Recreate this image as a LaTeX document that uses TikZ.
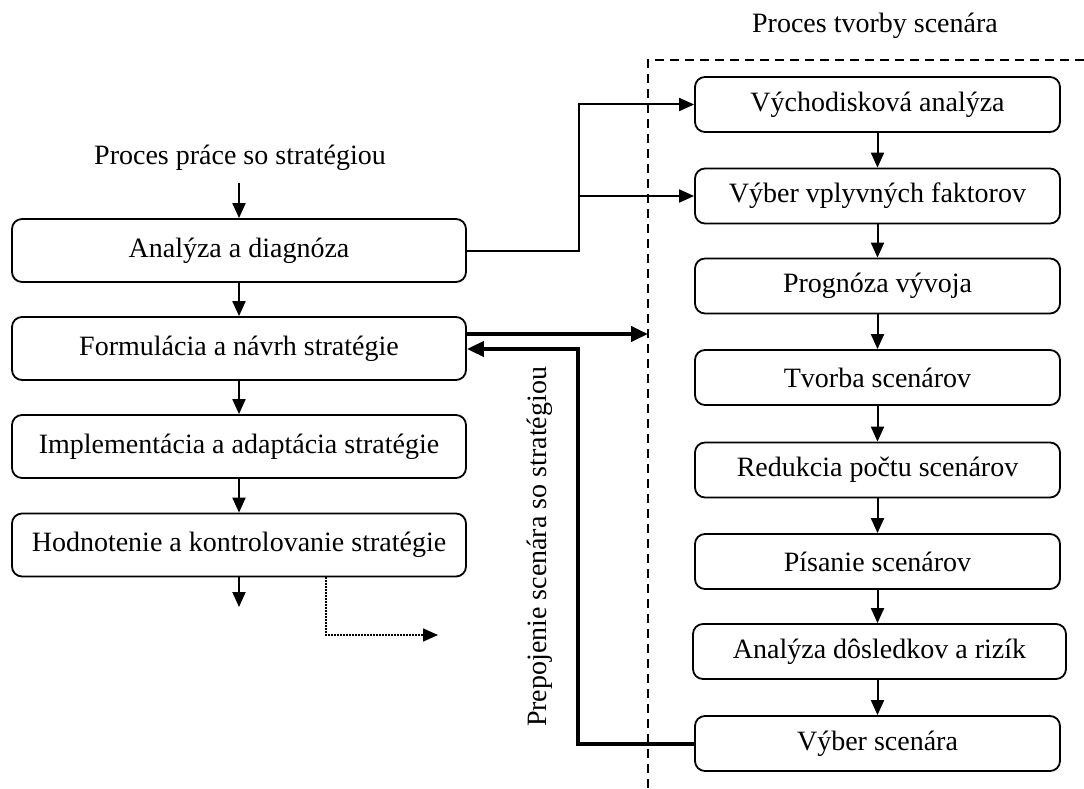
\documentclass[tikz,border=0pt]{standalone}
\usepackage{fontspec}
\setmainfont{Liberation Serif}
\usetikzlibrary{arrows.meta}

\begin{document}
\begin{tikzpicture}[x=1pt,y=-1pt,
  txt/.style={font=\fontsize{28}{33}\selectfont, inner sep=0pt},
  stepbox/.style={txt, draw, line width=1.8pt, rounded corners=10pt,
                  minimum height=63pt, minimum width=454pt},
  scenbox/.style={txt, draw, line width=1.8pt, rounded corners=10pt,
                  minimum height=55pt, minimum width=365pt},
  arr/.style={line width=2pt, -{Triangle[length=15pt,width=13pt]}},
  thickarr/.style={line width=4pt, -{Triangle[length=17pt,width=15pt]}},
  dotarr/.style={line width=1.6pt, dash pattern=on 1.6pt off 1.4pt,
                 -{Triangle[length=15pt,width=13pt]}},
  border/.style={line width=1.6pt, dash pattern=on 9pt off 6pt}
]
\useasboundingbox (0,0) rectangle (1084,789);

% strategy process (left column)
\node[txt] (t1) at (240,158) {Proces práce so stratégiou};
\node[stepbox] (a1) at (239,250.5) {Analýza a diagnóza};
\node[stepbox] (a2) at (239,348.5) {Formulácia a návrh stratégie};
\node[stepbox] (a3) at (239,446.5) {Implementácia a adaptácia stratégie};
\node[stepbox] (a4) at (239,545) {Hodnotenie a kontrolovanie stratégie};

% scenario process (right column)
\node[txt] (t2) at (875,26) {Proces tvorby scenára};
\node[scenbox] (b1) at (877.5,104.5) {Východisková analýza};
\node[scenbox] (b2) at (877.5,196) {Výber vplyvných faktorov};
\node[scenbox] (b3) at (877.5,286) {Prognóza vývoja};
\node[scenbox] (b4) at (877.5,377.5) {Tvorba scenárov};
\node[scenbox] (b5) at (877.5,470) {Redukcia počtu scenárov};
\node[scenbox] (b6) at (877.5,561.5) {Písanie scenárov};
\node[scenbox, minimum width=373pt] (b7) at (879.5,651.5) {Analýza dôsledkov a rizík};
\node[scenbox] (b8) at (877.5,743.5) {Výber scenára};

% boundary of the scenario process
\coordinate (dl) at (648,60);
\draw[border] (1084,60) -- (dl) -- (648,789);

% flow in the left column
\coordinate (tin) at (239,183);
\coordinate (out) at (239,607);
\draw[arr] (tin) -- (a1.north);
\draw[arr] (a1) -- (a2);
\draw[arr] (a2) -- (a3);
\draw[arr] (a3) -- (a4);
\draw[arr] (a4.south) -- (out);

% flow in the right column
\foreach \u/\v in {b1/b2,b2/b3,b3/b4,b4/b5,b5/b6,b6/b7,b7/b8}
  \draw[arr] (\u.south -| b1.south) -- (\v.north -| b1.south);

% analysis feeds the first two scenario steps
\coordinate (split) at (579,196);
\draw[arr] (a1.east) -| (split) |- (b1.west);
\draw[arr] (split) -- (b2.west);

% link between strategy formulation and scenario building
\coordinate (fout) at ([yshift=14.5pt]a2.east);
\draw[thickarr] (fout) -- (fout -| dl);
\coordinate (ret) at (578,349);
\draw[thickarr] (b8.west) -| (ret) -- (ret -| a2.east);
\node[txt, rotate=90] (link) at (540,547) {Prepojenie scenára so stratégiou};

% dotted continuation
\coordinate (dotend) at (438,635);
\draw[dotarr] ([xshift=87pt]a4.south) |- (dotend);
\end{tikzpicture}
\end{document}
